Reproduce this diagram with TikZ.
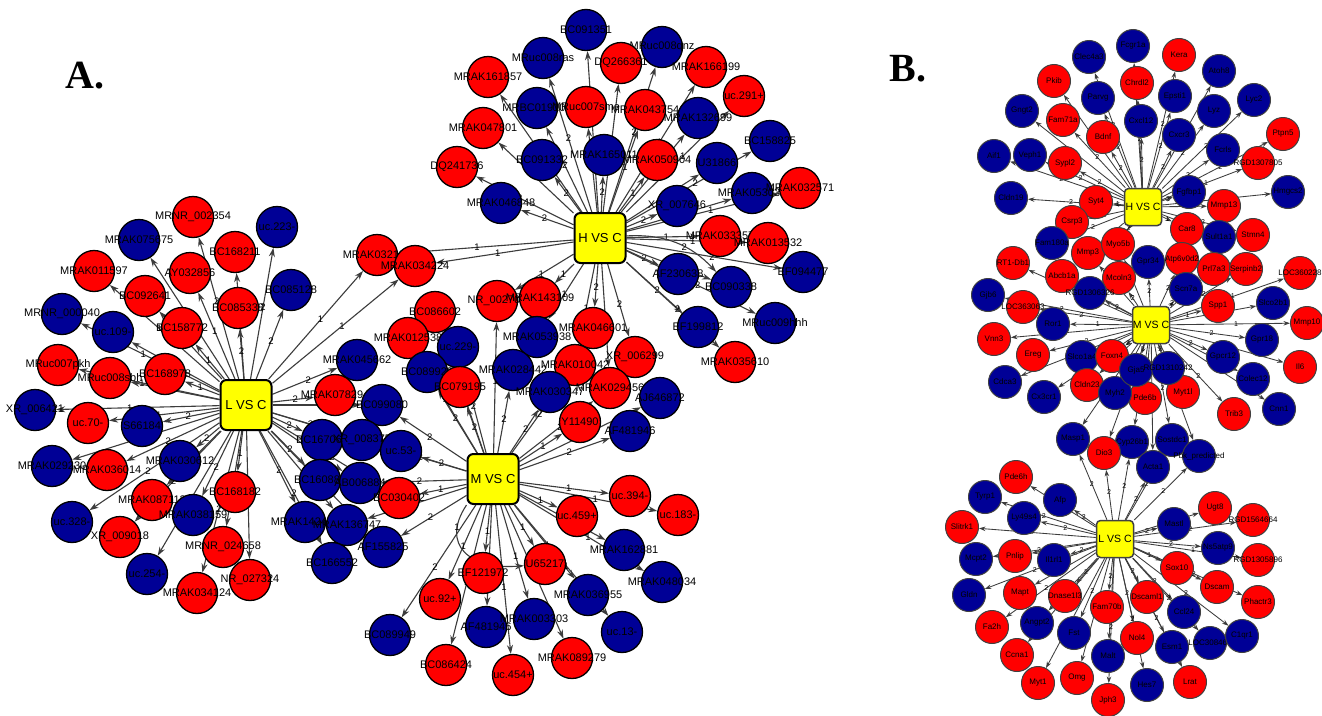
\documentclass[tikz,border=0pt]{standalone}
\usepackage{fontspec}
\setmainfont{Liberation Sans}
\newfontfamily\serifbold{Liberation Serif}
\usetikzlibrary{arrows.meta}
\pgfdeclarelayer{bg}
\pgfsetlayers{bg,main}
\definecolor{nred}{RGB}{255,0,0}
\definecolor{nblue}{RGB}{0,0,150}
\definecolor{edgec}{RGB}{60,60,60}
\definecolor{hubY}{RGB}{255,255,0}
\newcommand\N[5]{\node[#1] (#2) at (#3,#4) {\makebox[0pt]{#5}};}
\begin{document}
\begin{tikzpicture}[x=1pt,y=-1pt,
  nA/.style={circle,draw=black,line width=1.3pt,minimum size=41pt,inner sep=0pt,font=\fontsize{11}{11}\selectfont},
  rA/.style={nA,fill=nred}, bA/.style={nA,fill=nblue},
  nB/.style={circle,draw=black!75,line width=1pt,minimum size=33pt,inner sep=0pt,font=\fontsize{8}{8}\selectfont},
  rB/.style={nB,fill=nred}, bB/.style={nB,fill=nblue},
  hubA/.style={rectangle,rounded corners=6pt,draw=black,line width=2pt,fill=hubY,minimum width=51pt,minimum height=50pt,inner sep=0pt,font=\fontsize{13}{13}\selectfont},
  hubB/.style={rectangle,rounded corners=4pt,draw=black!75,line width=1.5pt,fill=hubY,minimum size=37pt,inner sep=0pt,font=\fontsize{10.5}{10.5}\selectfont},
  edA/.style={draw=edgec,line width=1.1pt,-{Stealth[length=9pt,width=6pt]}},
  edB/.style={draw=edgec,line width=0.85pt,-{Stealth[length=6.5pt,width=4.5pt]}},
  elA/.style={pos=0.55,font=\fontsize{9.5}{9.5}\selectfont,inner sep=1pt},
  elB/.style={pos=0.55,font=\fontsize{7}{7}\selectfont,inner sep=1pt}]
\useasboundingbox (0,0) rectangle (1322,715);
% ---------- Panel labels
\node[font=\serifbold\bfseries\fontsize{40}{40}\selectfont] (lblA) at (85,76) {A.};
\node[font=\serifbold\bfseries\fontsize{40}{40}\selectfont] (lblB) at (908,69) {B.};
% ---------- Panel A hubs
\node[hubA] (LA) at (246,405) {L VS C};
\node[hubA] (HA) at (600,238) {H VS C};
\node[hubA] (MA) at (493,479) {M VS C};
% ---------- Panel A, L group
\N{rA}{a1}{193}{217}{MRNR\_002354}
\N{bA}{a2}{277}{227}{uc.223-}
\N{bA}{a3}{139}{240}{MRAK075675}
\N{rA}{a4}{235}{252}{BC168211}
\N{rA}{a5}{94}{271}{MRAK011597}
\N{rA}{a6}{190}{273}{AY032856}
\N{rA}{a7}{145}{296}{BC092641}
\N{bA}{a8}{291}{290}{BC085128}
\N{rA}{a9}{238}{308}{BC085338}
\N{bA}{a10}{62}{314}{MRNR\_000040}
\N{bA}{a11}{113}{332}{uc.109-}
\N{rA}{a12}{182}{328}{BC158772}
\N{rA}{a13}{58}{365}{MRuc007pkh}
\N{rA}{a14}{110}{378}{MRuc008sbh}
\N{rA}{a15}{165}{374}{BC168978}
\N{bA}{a16}{35}{410}{XR\_006421}
\N{rA}{a17}{88}{423}{uc.70-}
\N{bA}{a18}{142}{426}{S66184}
\N{bA}{a19}{52}{466}{MRAK029230}
\N{rA}{a20}{107}{470}{MRAK036014}
\N{bA}{a21}{180}{461}{MRAK030612}
\N{rA}{a22}{235}{492}{BC168182}
\N{rA}{a23}{152}{500}{MRAK087112}
\N{bA}{a24}{193}{515}{MRAK038159}
\N{bA}{a25}{72}{522}{uc.328-}
\N{rA}{a26}{120}{537}{XR\_009018}
\N{rA}{a27}{223}{547}{MRNR\_024658}
\N{bA}{a28}{147}{574}{uc.254-}
\N{rA}{a29}{250}{580}{NR\_027324}
\N{rA}{a30}{197}{593}{MRAK034124}
\N{rA}{a31}{377}{255}{MRAK032121}
\N{rA}{a32}{415}{266}{MRAK034224}
% cluster between L and M
\N{bA}{c1}{357}{360}{MRAK045662}
\N{rA}{c2}{335}{395}{MRAK078294}
\N{bA}{c3}{382}{405}{BC099080}
\N{bA}{c4}{322}{440}{BC167068}
\N{bA}{c5}{362}{440}{XR\_008375}
\N{bA}{c6}{401}{451}{uc.53-}
\N{bA}{c7}{320}{480}{BC160888}
\N{bA}{c8}{360}{483}{AB006884}
\N{rA}{c9}{399}{498}{BC030402}
\N{bA}{c10}{305}{522}{MRAK142484}
\N{bA}{c11}{347}{525}{MRAK136747}
\N{bA}{c12}{383}{547}{AF155825}
\N{bA}{c13}{332}{563}{BC166552}
% ---------- Panel A, M group
\N{rA}{m1}{435}{312}{BC086602}
\N{rA}{m2}{497}{301}{NR\_002709}
\N{rA}{m3}{540}{298}{MRAK143109}
\N{rA}{m4}{408}{338}{MRAK012538}
\N{bA}{m5}{458}{347}{uc.229-}
\N{bA}{m6}{427}{372}{BC089928}
\N{rA}{m7}{460}{387}{BC079195}
\N{bA}{m8}{537}{337}{MRAK053938}
\N{rA}{m9}{593}{328}{MRAK046601}
\N{bA}{m10}{513}{370}{MRAK028442}
\N{rA}{m11}{575}{365}{MRAK010042}
\N{rA}{m12}{635}{357}{XR\_006299}
\N{bA}{m13}{550}{392}{MRAK030347}
\N{rA}{m14}{610}{388}{MRAK029456}
\N{bA}{m15}{660}{398}{AJ646872}
\N{rA}{m16}{580}{422}{Y11490}
\N{bA}{m17}{630}{431}{AF481946}
\N{rA}{m18}{630}{496}{uc.394-}
\N{rA}{m19}{678}{515}{uc.183-}
\N{rA}{m20}{577}{516}{uc.459+}
\N{bA}{m21}{624}{550}{MRAK162881}
\N{bA}{m22}{662}{582}{MRAK048034}
\N{rA}{m23}{545}{564}{U65217}
\N{rA}{m24}{483}{573}{EF121972}
\N{bA}{m25}{588}{595}{MRAK036955}
\N{rA}{m26}{440}{599}{uc.92+}
\N{bA}{m27}{622}{632}{uc.13-}
\N{bA}{m28}{486}{627}{AF481946}
\N{bA}{m29}{534}{619}{MRAK003303}
\N{bA}{m30}{390}{635}{BC089949}
\N{rA}{m31}{446}{665}{BC086424}
\N{rA}{m32}{513}{675}{uc.454+}
\N{rA}{m33}{572}{658}{MRAK089279}
% ---------- Panel A, H group
\N{bA}{h1}{586}{30}{BC091351}
\N{bA}{h2}{543}{58}{MRuc008ras}
\N{bA}{h3}{662}{47}{MRuc008qnz}
\N{rA}{h4}{621}{63}{DQ266361}
\N{rA}{h5}{706}{67}{MRAK166199}
\N{rA}{h6}{488}{77}{MRAK161857}
\N{rA}{h7}{744}{96}{uc.291+}
\N{bA}{h8}{537}{108}{MRBC019109}
\N{rA}{h9}{586}{107}{MRuc007sme}
\N{rA}{h10}{645}{110}{MRAK043754}
\N{bA}{h11}{698}{118}{MRAK132699}
\N{rA}{h12}{483}{128}{MRAK047801}
\N{bA}{h13}{770}{141}{BC158825}
\N{bA}{h14}{542}{160}{BC091332}
\N{bA}{h15}{604}{155}{MRAK165011}
\N{rA}{h16}{657}{160}{MRAK050904}
\N{bA}{h17}{717}{163}{U31866}
\N{rA}{h18}{457}{167}{DQ241736}
\N{bA}{h19}{501}{203}{MRAK046848}
\N{bA}{h20}{677}{206}{XR\_007646}
\N{bA}{h21}{752}{193}{MRAK053035}
\N{rA}{h22}{800}{188}{MRAK032571}
\N{rA}{h23}{720}{236}{MRAK033357}
\N{rA}{h24}{768}{243}{MRAK013532}
\N{bA}{h25}{803}{272}{EF094477}
\N{bA}{h26}{678}{274}{AF230638}
\N{bA}{h27}{731}{287}{BC090338}
\N{bA}{h28}{775}{323}{MRuc009hhh}
\N{bA}{h29}{698}{327}{EF199812}
\N{rA}{h30}{735}{362}{MRAK035610}
% ---------- Panel B hubs
\node[hubB] (HB) at (1143,207) {H VS C};
\node[hubB] (MB) at (1151,325) {M VS C};
\node[hubB] (LB) at (1115,539) {L VS C};
% ---------- Panel B, H group
\N{bB}{b1}{1133}{46}{Fcgr1a}
\N{bB}{b2}{1089}{57}{Clec4a3}
\N{rB}{b3}{1179}{55}{Kera}
\N{bB}{b4}{1219}{71}{Atoh8}
\N{rB}{b5}{1054}{81}{Pkib}
\N{rB}{b6}{1137}{83}{Chrdl2}
\N{bB}{b7}{1098}{98}{Parvg}
\N{bB}{b8}{1175}{96}{Epsti1}
\N{bB}{b9}{1254}{100}{Lyc2}
\N{bB}{b10}{1022}{111}{Gngt2}
\N{bB}{b11}{1214}{111}{Lyz}
\N{bB}{b12}{1141}{121}{Cxcl12}
\N{rB}{b13}{1063}{120}{Fam71a}
\N{rB}{b14}{1103}{137}{Bdnf}
\N{bB}{b15}{1179}{135}{Cxcr3}
\N{rB}{b16}{1283}{134}{Ptpn5}
\N{bB}{b17}{994}{156}{Aif1}
\N{bB}{b18}{1030}{155}{Veph1}
\N{rB}{b19}{1065}{163}{Sypl2}
\N{bB}{b20}{1223}{150}{Fcrls}
\N{rB}{b21}{1258}{163}{RGD1307805}
\N{bB}{b22}{1288}{192}{Hmgcs2}
\N{bB}{b23}{1011}{198}{Cldn19}
\N{rB}{b24}{1096}{202}{Syt4}
\N{bB}{b25}{1189}{192}{Fgfbp1}
\N{rB}{b26}{1224}{206}{Mmp13}
\N{rB}{b27}{1072}{222}{Csrp3}
\N{rB}{b28}{1187}{229}{Car8}
\N{bB}{b29}{1219}{237}{Sult1a1}
\N{rB}{b30}{1253}{235}{Stmn4}
\N{bB}{b33}{1052}{243}{Fam180a}
\N{rB}{b32}{1088}{253}{Mmp3}
\N{rB}{b31}{1118}{244}{Myo5b}
% ---------- Panel B, M group
\N{rB}{n1}{1013}{263}{RT1-Db1}
\N{rB}{n2}{1062}{276}{Abcb1a}
\N{bB}{n4}{1148}{262}{Gpr34}
\N{rB}{n5}{1182}{259}{Atp6v0d2}
\N{rB}{n6}{1214}{269}{Prl7a3}
\N{rB}{n7}{1246}{269}{Serpinb2}
\N{rB}{n8}{1300}{273}{LOC360228}
\N{rB}{n3}{1119}{278}{Mcoln3}
\N{bB}{n9}{988}{295}{Gjb6}
\N{bB}{n10}{1090}{293}{RGD1306326}
\N{bB}{n11}{1186}{289}{Scn7a}
\N{rB}{n12}{1218}{306}{Spp1}
\N{bB}{n13}{1273}{303}{Slco2b1}
\N{rB}{n14}{1023}{307}{LOC363063}
\N{bB}{n15}{1053}{324}{Ror1}
\N{rB}{n16}{1307}{323}{Mmp10}
\N{rB}{n17}{994}{339}{Vnn3}
\N{rB}{n18}{1033}{355}{Ereg}
\N{bB}{n19}{1262}{340}{Gpr18}
\N{bB}{n20}{1082}{357}{Slco1a4}
\N{rB}{n21}{1112}{356}{Foxn4}
\N{bB}{n22}{1223}{357}{Gpcr12}
\N{rB}{n23}{1300}{367}{Il6}
\N{bB}{n26}{1253}{379}{Colec12}
\N{bB}{n27}{1005}{382}{Cdca3}
\N{rB}{n28}{1087}{385}{Cldn23}
\N{bB}{n29}{1044}{397}{Cx3cr1}
\N{rB}{n31}{1145}{398}{Pde6b}
\N{bB}{n30}{1115}{393}{Myh2}
\N{rB}{n32}{1183}{392}{Myt1l}
\N{bB}{n24}{1136}{370}{Gja5}
\N{bB}{n25}{1168}{368}{RGD1310242}
\N{rB}{n33}{1234}{414}{Trib3}
\N{bB}{n34}{1279}{409}{Cnn1}
\N{bB}{n35}{1073}{439}{Masp1}
\N{bB}{n37}{1132}{442}{Cyp26b1}
\N{bB}{n38}{1172}{440}{Sostdc1}
\N{rB}{n36}{1104}{453}{Dio3}
\N{bB}{n40}{1153}{467}{Acta1}
\N{bB}{n39}{1199}{456}{Pbk\_predicted}
% ---------- Panel B, L group
\N{rB}{l1}{1016}{477}{Pde6h}
\N{bB}{l2}{1060}{500}{Afp}
\N{bB}{l3}{985}{497}{Tyrp1}
\N{rB}{l4}{1215}{508}{Ugt8}
\N{rB}{l5}{1253}{520}{RGD1564664}
\N{bB}{l6}{1024}{518}{Ly49s4}
\N{bB}{l7}{1174}{524}{Mastl}
\N{rB}{l8}{962}{527}{Slitrk1}
\N{bB}{l9}{1218}{548}{Ns5atp9}
\N{rB}{l10}{1258}{560}{RGD1305896}
\N{bB}{l11}{976}{559}{Mcpt2}
\N{rB}{l12}{1015}{556}{Pnlip}
\N{bB}{l13}{1054}{560}{Il1rl1}
\N{rB}{l14}{1177}{568}{Sox10}
\N{rB}{l15}{1217}{587}{Dscam}
\N{rB}{l16}{1258}{602}{Phactr3}
\N{bB}{l17}{969}{595}{Gldn}
\N{rB}{l18}{1020}{593}{Mapt}
\N{rB}{l19}{1065}{596}{Dnase1l3}
\N{rB}{l20}{1107}{607}{Fam70b}
\N{rB}{l21}{1147}{597}{Dscaml1}
\N{bB}{l22}{1184}{612}{Ccl24}
\N{rB}{l23}{992}{627}{Fa2h}
\N{bB}{l24}{1037}{623}{Angpt2}
\N{bB}{l25}{1074}{633}{Fst}
\N{bB}{l27}{1210}{643}{LOC308466}
\N{bB}{l26}{1242}{636}{C1qr1}
\N{rB}{l28}{1137}{638}{Nol4}
\N{bB}{l29}{1172}{647}{Esm1}
\N{rB}{l30}{1017}{655}{Ccna1}
\N{bB}{l31}{1108}{656}{Malt}
\N{rB}{l32}{1077}{678}{Omg}
\N{rB}{l33}{1038}{683}{Myt1}
\N{bB}{l34}{1147}{685}{Hes7}
\N{rB}{l35}{1190}{682}{Lrat}
\N{rB}{l36}{1108}{700}{Jph3}
% ---------- Edges (behind nodes)
\begin{pgfonlayer}{bg}
\fill[white] (0,0) rectangle (1322,715);
\foreach \t/\l in {a1/2,a2/2,a3/1,a4/1,a5/1,a6/1,a7/1,a8/2,a9/2,a10/1,a11/1,a12/1,a13/1,a14/1,a15/1,a16/1,a17/1,a18/2,a19/1,a20/2,a21/2,a22/1,a23/2,a24/2,a25/2,a26/2,a27/1,a28/2,a29/1,a30/2,a31/1,a32/1,c1/2,c2/2,c3/2,c4/2,c5/2,c6/2,c7/2,c8/2,c9/2,c10/2,c11/2,c12/2,c13/2}
  \draw[edA] (LA) -- node[elA]{\l} (\t);
\foreach \t/\l in {h1/2,h2/2,h3/2,h4/2,h5/1,h6/2,h7/1,h8/2,h9/2,h10/1,h11/1,h12/2,h13/2,h14/2,h15/2,h16/1,h17/2,h18/2,h19/2,h20/2,h21/2,h22/1,h23/1,h24/1,h25/2,h26/2,h27/2,h28/2,h29/2,h30/2,a31/1,a32/1,m2/1,m3/1,m8/1,m9/2,m11/1,m12/2,m14/1}
  \draw[edA] (HA) -- node[elA]{\l} (\t);
\draw[edA] (HA) to[bend left=25] node[elA,pos=0.6]{2} (h27);
\foreach \t/\l in {m1/1,m2/1,m4/1,m5/2,m6/2,m7/2,m10/2,m13/2,m16/1,m17/2,m15/1,m18/1,m19/1,m20/1,m21/1,m22/1,m23/1,m24/1,m25/1,m26/1,m27/1,m28/1,m29/1,m30/2,m31/2,m32/1,m33/1,m11/2,m14/2,c3/2,c5/2,c6/2,c8/2,c9/1,c11/2,c12/2}
  \draw[edA] (MA) -- node[elA]{\l} (\t);
\draw[edA] (MA.south west) .. controls (440,545) and (470,570) .. node[elA,pos=0.2]{1} (m23);
\foreach \t/\l in {b1/1,b2/2,b3/2,b4/2,b5/2,b6/2,b7/2,b8/2,b9/2,b10/2,b11/2,b12/2,b13/2,b14/2,b15/2,b16/2,b17/2,b18/2,b19/2,b20/2,b21/1,b22/2,b23/2,b24/1,b25/2,b26/2,b27/2,b28/1,b29/2,b30/2,b31/2,b32/2,b33/2}
  \draw[edB] (HB) -- node[elB]{\l} (\t);
\foreach \t/\l in {n1/2,n2/2,n3/2,n4/2,n5/2,n6/2,n7/2,n8/1,n9/2,n10/2,n11/2,n12/1,n13/2,n14/2,n15/1,n16/1,n17/2,n18/2,n19/2,n20/2,n21/2,n22/2,n23/2,n24/2,n25/2,n26/2,n27/2,n28/2,n29/2,n30/2,n31/2,n32/2,n33/2,n34/2,n35/2,n36/2,n37/2,n38/2,n39/2,n40/2,b31/2,b32/2}
  \draw[edB] (MB) -- node[elB]{\l} (\t);
\foreach \t/\l in {l1/2,l2/2,l3/2,l4/2,l5/2,l6/2,l7/2,l8/2,l9/2,l10/1,l11/2,l12/2,l13/2,l14/1,l15/2,l16/2,l17/2,l18/2,l19/2,l20/2,l21/2,l22/2,l23/2,l24/2,l25/2,l26/2,l27/2,l28/2,l29/2,l30/2,l31/2,l32/2,l33/2,l34/2,l35/2,l36/2,n35/2,n36/2,n37/2,n38/2,n39/2,n40/2}
  \draw[edB] (LB) -- node[elB]{\l} (\t);
\end{pgfonlayer}
\end{tikzpicture}
\end{document}
